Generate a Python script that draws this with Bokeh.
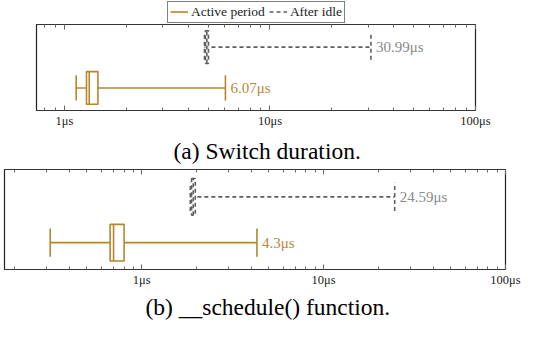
from bokeh.plotting import figure
from bokeh.models import (Range1d, LogAxis, FixedTicker, Legend, LegendItem,
                          Title, ColumnDataSource)
from bokeh.transform import dodge
from bokeh.embed import file_html
from bokeh.resources import INLINE
from bokeh.core.properties import value

# ---------------- data ----------------
groups = ["Active period", "After idle"]
group_pos = [1, 2]

# (a) Switch duration (microseconds)
a_low = [1.14, 4.80]
a_q1 = [1.28, 4.85]
a_med = [1.32, 4.93]
a_q3 = [1.455, 5.02]
a_high = [6.07, 30.99]

# (b) __schedule() function (microseconds)
b_low = [0.314, 1.85]
b_q1 = [0.67, 1.88]
b_med = [0.70, 1.92]
b_q3 = [0.80, 1.97]
b_high = [4.3, 24.59]

tick_values = [1, 10, 100]
tick_labels = ["1μs", "10μs", "100μs"]
captions = ["(a) Switch duration.", "(b) __schedule() function."]

# ---------------- style ----------------
GOLD = "#B5862C"
GRAY = "#5E5E5E"
LABEL_COLORS = ["#B8893A", "#8A8A8A"]
COLORS = [GOLD, GRAY]
DASHES = ["solid", "4 3"]
FONT = "Liberation Serif"
BOX_H = 0.8
CAP_H = 0.31

minor = [m * 10.0 ** e for e in (-1, 0, 1) for m in range(2, 10)]


def style_axis(ax, show_labels):
    ax.ticker = FixedTicker(ticks=tick_values, minor_ticks=minor)
    ax.major_tick_in = 5
    ax.major_tick_out = 0
    ax.minor_tick_in = 3
    ax.minor_tick_out = 0
    ax.major_tick_line_color = "#666666"
    ax.minor_tick_line_color = "#666666"
    ax.axis_line_color = "#333333"
    ax.axis_line_width = 1.2
    ax.major_label_overrides = dict(zip(tick_values, tick_labels))
    if show_labels:
        ax.major_label_text_font = FONT
        ax.major_label_text_font_size = "12.5px"
        ax.major_label_text_color = "#222222"
        ax.major_label_standoff = 3
    else:
        ax.major_label_text_font_size = "1px"
        ax.major_label_text_alpha = 0
        ax.major_label_standoff = 0


def make_panel(low, q1, med, q3, high, xr, yr, height, borders, caption,
               cap_offset, cap_standoff):
    p = figure(width=527, height=height, x_axis_type="log",
               x_range=Range1d(*xr), y_range=Range1d(*yr),
               y_axis_location=None, output_backend="svg",
               toolbar_location=None,
               min_border_left=borders[0], min_border_right=borders[1],
               min_border_top=borders[2], min_border_bottom=borders[3])
    p.xgrid.visible = False
    p.ygrid.visible = False
    p.outline_line_color = "#222222"
    p.outline_line_width = 1.2
    p.background_fill_color = "white"
    p.border_fill_color = "white"

    style_axis(p.xaxis[0], True)
    top_ax = LogAxis()
    style_axis(top_ax, False)
    p.add_layout(top_ax, "above")

    for i in range(len(groups)):
        src = ColumnDataSource(dict(
            low=[low[i]], q1=[q1[i]], med=[med[i]], q3=[q3[i]], high=[high[i]],
            y=[group_pos[i]], lab=[f"{high[i]}μs"]))
        kw = dict(line_color=COLORS[i], line_width=1.6, line_dash=DASHES[i])
        p.segment(x0="low", y0="y", x1="high", y1="y", source=src, **kw)
        p.hbar(y="y", left="q1", right="q3", height=BOX_H, fill_color="white",
               source=src, **kw)
        p.segment(x0="med", x1="med", y0=dodge("y", -BOX_H / 2),
                  y1=dodge("y", BOX_H / 2), source=src, **kw)
        for f in ("low", "high"):
            p.segment(x0=f, x1=f, y0=dodge("y", -CAP_H), y1=dodge("y", CAP_H),
                      source=src, **kw)
        p.text(x="high", y="y", text="lab", source=src, x_offset=5,
               text_baseline="middle", text_align="left",
               text_font=value(FONT), text_font_size=value("15px"),
               text_color=LABEL_COLORS[i])

    p.add_layout(Title(text=caption, align="left", text_font=FONT,
                       text_font_size="23.5px", text_font_style="normal",
                       text_color="black", offset=cap_offset,
                       standoff=cap_standoff), "below")
    return p


# ---- legend strip: its own small figure; the whisker data sit outside its
# ---- (deliberately empty) y range, so only the legend itself shows
p0 = figure(width=527, height=23, x_axis_location=None, y_axis_location=None,
            y_range=Range1d(10, 11), toolbar_location=None,
            output_backend="svg", min_border_left=0, min_border_right=15,
            min_border_top=0, min_border_bottom=0)
p0.xgrid.visible = False
p0.ygrid.visible = False
p0.outline_line_color = None
items = []
for i in range(len(groups)):
    r = p0.segment(x0=[a_low[i]], x1=[a_high[i]], y0=[group_pos[i]],
                   y1=[group_pos[i]], line_color=COLORS[i], line_width=1.6,
                   line_dash=DASHES[i])
    items.append(LegendItem(label=groups[i], renderers=[r]))
legend = Legend(items=items, orientation="horizontal", location="center",
                border_line_color="black", border_line_width=1,
                background_fill_color="white", background_fill_alpha=1,
                padding=2, spacing=4, label_standoff=3, glyph_width=18,
                glyph_height=13, label_height=13, margin=0,
                label_text_font=FONT, label_text_font_size="13.5px",
                label_text_color="#222222")
p0.add_layout(legend, "center")

p1 = make_panel(a_low, a_q1, a_med, a_q3, a_high, (0.731, 100),
                (0.447, 2.555), 145, (36, 52, 1, 56), captions[0], 137, 10)
p2 = make_panel(b_low, b_q1, b_med, b_q3, b_high, (0.176, 100),
                (0.414, 2.598), 153, (4, 22, 1, 50), captions[1], 141, 4)

open("out.html", "w").write(file_html([p0, p1, p2], INLINE))
